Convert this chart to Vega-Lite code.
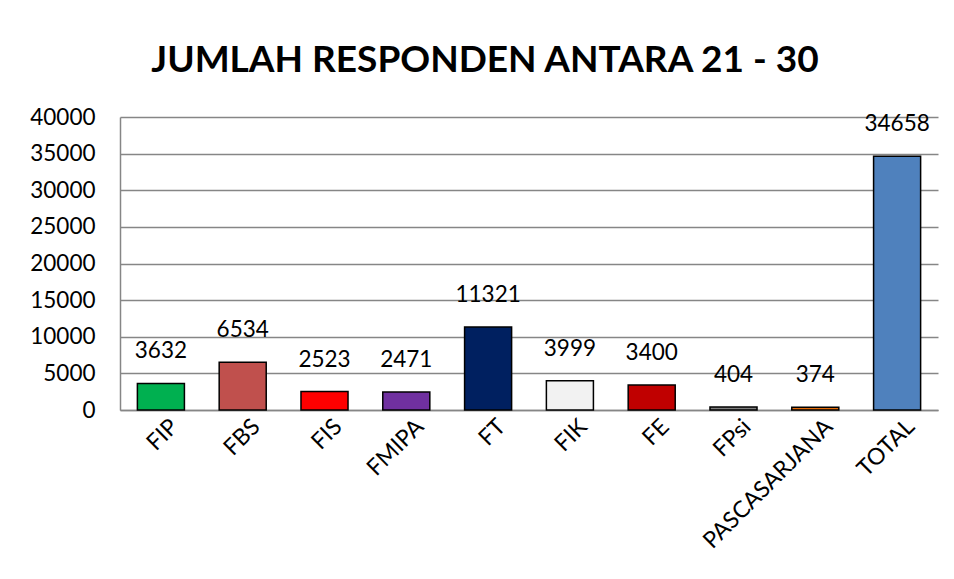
{
  "$schema": "https://vega.github.io/schema/vega-lite/v6.json",
  "width": 818,
  "height": 293,
  "autosize": {"type": "none"},
  "padding": {"left": 120, "top": 117, "right": 16, "bottom": 169},
  "background": "white",
  "title": {
    "text": "JUMLAH RESPONDEN ANTARA 21 - 30",
    "font": "Lato",
    "fontSize": 37,
    "fontWeight": "bold",
    "color": "#000000",
    "anchor": "middle",
    "dx": -44,
    "offset": 26
  },
  "data": {
    "values": [
      {"fakultas": "FIP", "jumlah": 3632, "warna": "#00B050"},
      {"fakultas": "FBS", "jumlah": 6534, "warna": "#C0504D"},
      {"fakultas": "FIS", "jumlah": 2523, "warna": "#FF0000"},
      {"fakultas": "FMIPA", "jumlah": 2471, "warna": "#7030A0"},
      {"fakultas": "FT", "jumlah": 11321, "warna": "#002060"},
      {"fakultas": "FIK", "jumlah": 3999, "warna": "#F2F2F2"},
      {"fakultas": "FE", "jumlah": 3400, "warna": "#C00000"},
      {"fakultas": "FPsi", "jumlah": 404, "warna": "#7F7F7F"},
      {"fakultas": "PASCASARJANA", "jumlah": 374, "warna": "#E46C0A"},
      {"fakultas": "TOTAL", "jumlah": 34658, "warna": "#4F81BD"}
    ]
  },
  "encoding": {
    "x": {
      "field": "fakultas",
      "type": "nominal",
      "sort": null,
      "scale": {"paddingInner": 0.425, "paddingOuter": 0.2125},
      "axis": {
        "title": null,
        "labelAngle": -45,
        "labelFont": "Lato",
        "labelFontSize": 23,
        "labelColor": "#000000",
        "labelPadding": 5,
        "labelOffset": 6,
        "ticks": false,
        "domainColor": "#868686",
        "domainWidth": 1.5,
        "grid": false
      }
    },
    "y": {
      "field": "jumlah",
      "type": "quantitative",
      "scale": {"domain": [0, 40000], "nice": false},
      "axis": {
        "title": null,
        "values": [0, 5000, 10000, 15000, 20000, 25000, 30000, 35000, 40000],
        "format": "d",
        "labelFont": "Lato",
        "labelFontSize": 22.5,
        "labelColor": "#000000",
        "labelPadding": 25,
        "ticks": false,
        "domainColor": "#868686",
        "domainWidth": 1.5,
        "grid": true,
        "gridColor": "#868686",
        "gridWidth": 1.5
      }
    }
  },
  "layer": [
    {
      "mark": {"type": "bar", "stroke": "#000000", "strokeWidth": 1.5},
      "encoding": {
        "color": {"field": "warna", "type": "nominal", "scale": null, "legend": null}
      }
    },
    {
      "mark": {"type": "text", "font": "Lato", "fontSize": 22.5, "color": "#000000", "dy": -32, "baseline": "middle"},
      "encoding": {
        "text": {"field": "jumlah", "type": "quantitative", "format": "d"}
      }
    }
  ],
  "config": {
    "view": {"stroke": null}
  }
}
